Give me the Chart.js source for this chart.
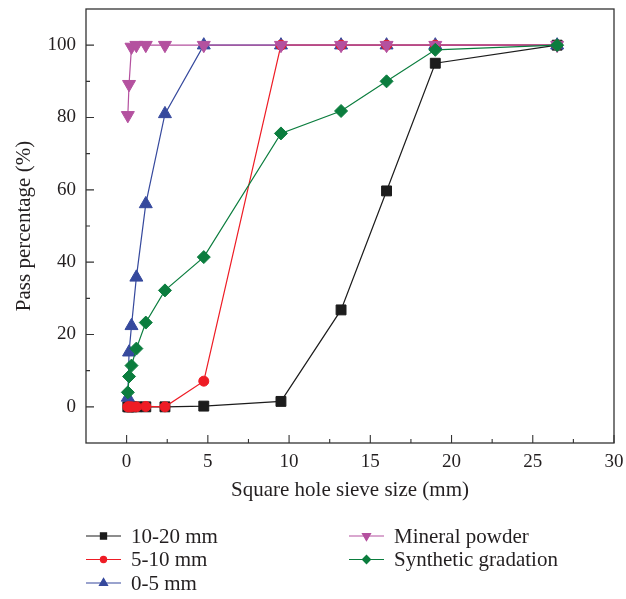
<!DOCTYPE html>
<html>
<head>
<meta charset="utf-8">
<script src="https://cdn.jsdelivr.net/npm/chart.js"></script>
<style>
  html, body { margin: 0; padding: 0; background: #fff; }
  #wrap { width: 626px; height: 599px; position: relative; }
</style>
</head>
<body>
<div id="wrap"><canvas id="chart"></canvas></div>
<script>
// sieve sizes (mm) and passing percentages
const sieveSizes = [0.075, 0.15, 0.3, 0.6, 1.18, 2.36, 4.75, 9.5, 13.2, 16, 19, 26.5];
const pass10to20 = [0, 0, 0, 0, 0, 0, 0.2, 1.5, 26.8, 59.7, 95, 100];
const pass5to10 = [0, 0, 0, 0, 0.1, 0, 7.1, 100, 100, 100, 100, 100];
const pass0to5 = [2.6, 15.1, 22.4, 35.8, 56.1, 81, 100, 100, 100, 100, 100, 100];
const passMineral = [80.6, 89.2, 99.5, 100, 100, 100, 100, 100, 100, 100, 100, 100];
const passSynthetic = [4.0, 8.4, 11.4, 16.1, 23.3, 32.2, 41.4, 75.6, 81.8, 90, 98.7, 100];

const seriesNames = ['10-20 mm', '5-10 mm', '0-5 mm', 'Mineral powder', 'Synthetic gradation'];

// axis ticks
const xTicks = [0, 5, 10, 15, 20, 25, 30];
const yTicks = [0, 20, 40, 60, 80, 100];

const FONT = '"Liberation Serif", "Times New Roman", serif';
const TEXT = '#231f20';
const AXIS = '#333333';

Chart.defaults.font.family = FONT;
Chart.defaults.font.size = 19;
Chart.defaults.color = TEXT;

function points(values) {
    return sieveSizes.map((s, i) => ({x: s, y: values[i]}));
}

function series(label, values, color, style, radius, rotation, order) {
    return {
        label: label,
        data: points(values),
        showLine: true,
        borderColor: color,
        backgroundColor: color,
        borderWidth: 1.2,
        pointStyle: style,
        pointRadius: radius,
        pointHoverRadius: radius,
        pointRotation: rotation,
        pointBorderWidth: 1,
        pointBorderColor: color,
        pointBackgroundColor: color,
        order: order
    };
}

// inward ticks (major + minor) and the box round the plot
const frameTicks = {
    id: 'frameTicks',
    afterDraw(chart) {
        const {ctx, chartArea: a, scales: {x, y}} = chart;
        ctx.save();
        ctx.strokeStyle = AXIS;
        ctx.lineWidth = 1.3;
        ctx.strokeRect(a.left, a.top, a.right - a.left, a.bottom - a.top);
        ctx.lineWidth = 1.1;
        ctx.beginPath();
        for (let i = 0; i < xTicks.length; i++) {
            const px = x.getPixelForValue(xTicks[i]);
            ctx.moveTo(px, a.bottom);
            ctx.lineTo(px, a.bottom - 8);
            if (i < xTicks.length - 1) {
                const mx = x.getPixelForValue((xTicks[i] + xTicks[i + 1]) / 2);
                ctx.moveTo(mx, a.bottom);
                ctx.lineTo(mx, a.bottom - 4);
            }
        }
        for (let i = 0; i < yTicks.length; i++) {
            const py = y.getPixelForValue(yTicks[i]);
            ctx.moveTo(a.left, py);
            ctx.lineTo(a.left + 8, py);
            const mids = [yTicks[i] - 10, yTicks[i] + 10];
            mids.forEach(v => {
                if (v > y.min && v < y.max && (i === 0 || v > yTicks[i])) {
                    const my = y.getPixelForValue(v);
                    ctx.moveTo(a.left, my);
                    ctx.lineTo(a.left + 4, my);
                }
            });
        }
        ctx.stroke();
        ctx.restore();
    }
};

// two-column legend under the x axis title
const columnLegend = {
    id: 'columnLegend',
    afterDraw(chart) {
        const {ctx, chartArea: a} = chart;
        const layout = [[0, 1, 2], [3, 4]];
        const colX = [a.left, a.left + 263];
        const rowTop = chart.scales.x.bottom + 33;
        const rowGap = 23.5;
        ctx.save();
        ctx.font = '21px ' + FONT;
        ctx.textBaseline = 'middle';
        ctx.fillStyle = TEXT;
        layout.forEach((col, c) => {
            col.forEach((idx, r) => {
                const ds = chart.data.datasets[idx];
                const x0 = colX[c];
                const yy = rowTop + r * rowGap;
                ctx.strokeStyle = ds.borderColor;
                ctx.lineWidth = 1.2;
                ctx.beginPath();
                ctx.moveTo(x0, yy);
                ctx.lineTo(x0 + 35, yy);
                ctx.stroke();
                ctx.fillStyle = ds.backgroundColor;
                Chart.helpers.drawPoint(ctx, {
                    pointStyle: ds.pointStyle,
                    rotation: ds.pointRotation,
                    radius: ds.pointRadius * 0.62,
                    borderWidth: 1
                }, x0 + 17.5, yy);
                ctx.fillStyle = TEXT;
                ctx.fillText(ds.label, x0 + 45, yy + 1);
            });
        });
        ctx.restore();
    }
};

const ctx = document.querySelector('#chart').getContext('2d');
const chart = new Chart(ctx, {
    type: 'scatter',
    data: {
        datasets: [
            series(seriesNames[0], pass10to20, '#1c1c1c', 'rect', 7, 0, 5),
            series(seriesNames[1], pass5to10, '#ee1c25', 'circle', 5, 0, 3),
            series(seriesNames[2], pass0to5, '#36499d', 'triangle', 7.5, 0, 4),
            series(seriesNames[3], passMineral, '#b4519f', 'triangle', 7.5, 180, 2),
            series(seriesNames[4], passSynthetic, '#0b7d3e', 'rectRot', 6.5, 0, 1)
        ]
    },
    options: {
        responsive: true,
        maintainAspectRatio: false,
        animation: false,
        layout: {
            padding: {top: 9, right: 12, left: 0, bottom: 96}
        },
        scales: {
            x: {
                type: 'linear',
                min: -2.5,
                max: 30,
                afterBuildTicks: s => { s.ticks = xTicks.map(v => ({value: v})); },
                afterFit: s => { s.height = 60; s.paddingLeft = 0; s.paddingRight = 0; },
                grid: {display: false, drawTicks: false},
                border: {display: false},
                ticks: {padding: 8, color: TEXT, font: {size: 19}},
                title: {
                    display: true,
                    text: 'Square hole sieve size (mm)',
                    color: TEXT,
                    font: {size: 21},
                    padding: {top: 0, bottom: 0}
                }
            },
            y: {
                type: 'linear',
                min: -10,
                max: 110,
                afterBuildTicks: s => { s.ticks = yTicks.map(v => ({value: v})); },
                afterFit: s => { s.width = 86; s.paddingTop = 0; s.paddingBottom = 0; },
                grid: {display: false, drawTicks: false},
                border: {display: false},
                ticks: {padding: 10, color: TEXT, font: {size: 19}},
                title: {
                    display: true,
                    text: 'Pass percentage (%)',
                    color: TEXT,
                    font: {size: 21},
                    padding: {top: 12, bottom: 0}
                }
            }
        },
        plugins: {
            legend: {display: false},
            tooltip: {enabled: false}
        }
    },
    plugins: [frameTicks, columnLegend]
});
</script>
</body>
</html>
